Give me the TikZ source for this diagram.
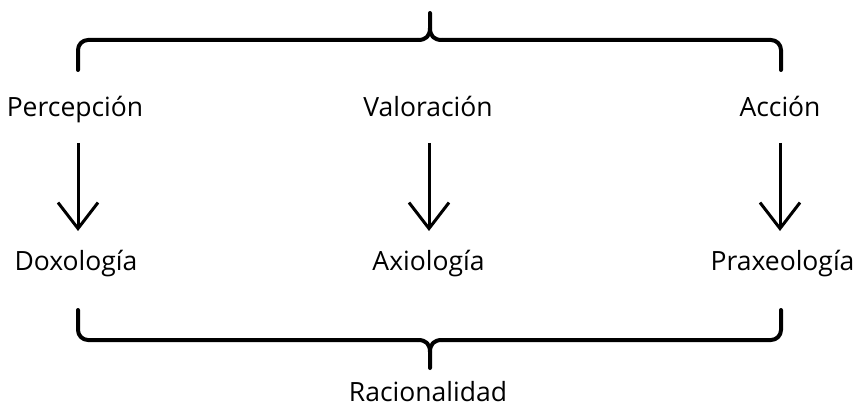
\documentclass[tikz,border=0pt]{standalone}
\usepackage{fontspec}
\setmainfont{Open Sans}
\usetikzlibrary{arrows.meta}
\begin{document}
\begin{tikzpicture}[x=1pt,y=-1pt,
  lbl/.style={inner sep=0pt,anchor=base,font=\fontsize{26.5}{30}\selectfont},
  brace/.style={line width=4pt,line cap=round,line join=round},
  arr/.style={line width=3pt,-{Straight Barb[length=26pt,width=40pt,line width=3pt]},shorten <=26pt,shorten >=39pt}]
\useasboundingbox (0,0) rectangle (859,409);
% labels
\node[lbl] (perc) at (75,117) {Percepción};
\node[lbl] (valo) at (428,117) {Valoración};
\node[lbl] (acci) at (780,117) {Acción};
\node[lbl] (doxo) at (76,270) {Doxología};
\node[lbl] (axio) at (428.5,270) {Axiología};
\node[lbl] (prax) at (782.5,270) {Praxeología};
\node[lbl] (raci) at (428,401) {Racionalidad};
% arrows
\draw[arr] (perc.base -| 78,0) -- (doxo.base -| 78,0);
\draw[arr] (valo.base -| 429,0) -- (axio.base -| 429,0);
\draw[arr] (acci.base -| 780,0) -- (prax.base -| 780,0);
% top brace
\coordinate (ttip) at (430,13);
\draw[brace,rounded corners=10pt] (78,70) -- (78,40) -- (418,40);
\draw[brace] (418,40) .. controls (426,40) and (430,36) .. (430,28) -- (ttip);
\draw[brace,rounded corners=10pt] (781,70) -- (781,40) -- (442,40);
\draw[brace] (442,40) .. controls (434,40) and (430,36) .. (430,28);
% bottom brace
\coordinate (btip) at (430,368);
\draw[brace,rounded corners=10pt] (78,310) -- (78,340) -- (418,340);
\draw[brace] (418,340) .. controls (426,340) and (430,344) .. (430,352) -- (btip);
\draw[brace,rounded corners=10pt] (781,310) -- (781,340) -- (442,340);
\draw[brace] (442,340) .. controls (434,340) and (430,344) .. (430,352);
\end{tikzpicture}
\end{document}
